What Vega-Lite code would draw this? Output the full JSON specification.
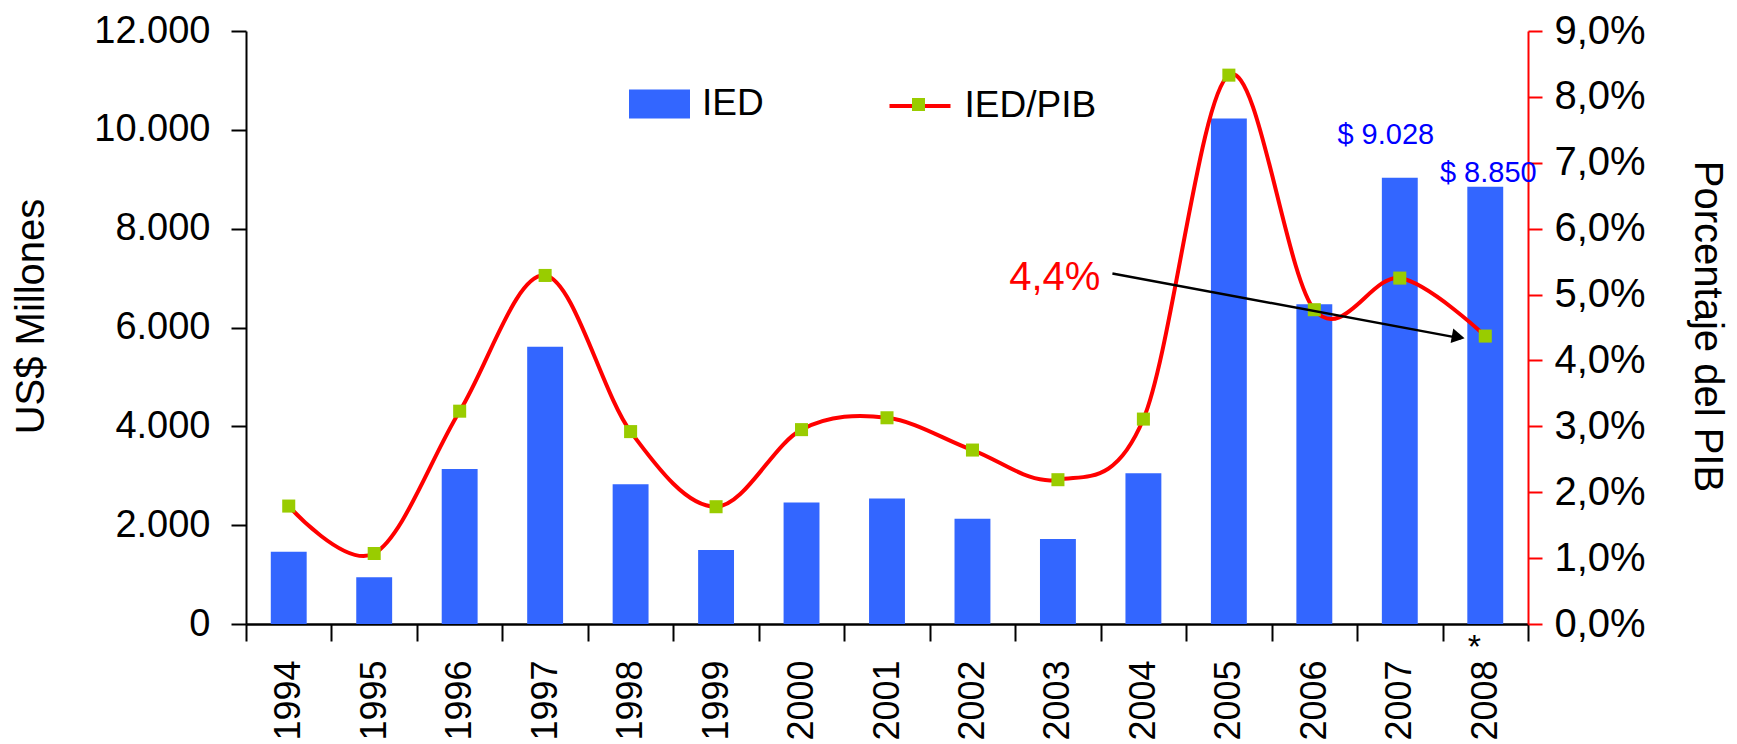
{
  "$schema": "https://vega.github.io/schema/vega-lite/v6.json",
  "width": 1282,
  "height": 593,
  "autosize": {"type": "none"},
  "padding": {"left": 246, "top": 31, "right": 209, "bottom": 120},
  "background": "white",
  "config": {
    "locale": {"number": {"decimal": ",", "thousands": ".", "grouping": [3], "currency": ["$ ", ""]}},
    "view": {"stroke": null},
    "font": "Liberation Sans, sans-serif"
  },
  "data": {"values": [
    {"year": "1994", "ied": 1460, "pct": 0.0179},
    {"year": "1995", "ied": 945, "pct": 0.0107},
    {"year": "1996", "ied": 3135, "pct": 0.0323},
    {"year": "1997", "ied": 5610, "pct": 0.0529},
    {"year": "1998", "ied": 2830, "pct": 0.0292},
    {"year": "1999", "ied": 1500, "pct": 0.0178},
    {"year": "2000", "ied": 2460, "pct": 0.0295},
    {"year": "2001", "ied": 2540, "pct": 0.0313},
    {"year": "2002", "ied": 2130, "pct": 0.0264},
    {"year": "2003", "ied": 1720, "pct": 0.0219},
    {"year": "2004", "ied": 3050, "pct": 0.0311},
    {"year": "2005", "ied": 10230, "pct": 0.0833},
    {"year": "2006", "ied": 6470, "pct": 0.0477},
    {"year": "2007", "ied": 9028, "pct": 0.0525},
    {"year": "2008", "ied": 8850, "pct": 0.0437}
  ]},
  "layer": [
    {
      "layer": [
        {
          "mark": {"type": "bar", "width": {"band": 0.42}},
          "encoding": {
            "x": {
              "field": "year", "type": "ordinal",
              "scale": {"paddingInner": 0, "paddingOuter": 0},
              "axis": {
                "title": null, "labelAngle": -90, "labelAlign": "right", "labelBaseline": "middle",
                "labelFontSize": 36, "labelColor": "black", "tickBand": "extent", "tickSize": 17,
                "tickWidth": 2, "tickColor": "black", "domainColor": "black", "domainWidth": 2.5,
                "labelPadding": 19
              }
            },
            "y": {
              "field": "ied", "type": "quantitative",
              "scale": {"domain": [0, 12000]},
              "axis": {
                "title": "US$ Millones", "values": [0, 2000, 4000, 6000, 8000, 10000, 12000],
                "format": ",.0f", "labelFontSize": 38, "labelColor": "black", "tickSize": 15,
                "labelPadding": 21, "domainColor": "black", "domainWidth": 2, "tickColor": "black",
                "tickWidth": 2, "grid": false, "titleFontSize": 40, "titleFontWeight": "normal",
                "titleColor": "black", "titleX": -215, "titleY": 285, "titleAngle": -90,
                "titleAlign": "center", "titleBaseline": "middle"
              }
            },
            "fill": {
              "datum": "IED",
              "scale": {"range": ["#3366FF"]},
              "legend": {
                "orient": "none", "legendX": 383, "legendY": 42.5, "title": null, "padding": 0,
                "symbolType": "M-1,-0.475H1V0.475H-1Z", "symbolSize": 3721, "symbolStrokeWidth": 0,
                "labelFontSize": 37, "labelOffset": 12, "labelColor": "black"
              }
            }
          }
        },
        {
          "transform": [{"filter": "datum.year == '2007'"}],
          "mark": {"type": "text", "color": "#0000FF", "fontSize": 29, "align": "center", "baseline": "alphabetic", "dx": -14, "dy": -34},
          "encoding": {
            "x": {"field": "year", "type": "ordinal"},
            "y": {"field": "ied", "type": "quantitative"},
            "text": {"field": "ied", "type": "quantitative", "format": "$,.0f"}
          }
        },
        {
          "transform": [{"filter": "datum.year == '2008'"}],
          "mark": {"type": "text", "color": "#0000FF", "fontSize": 29, "align": "center", "baseline": "alphabetic", "dx": 3, "dy": -5},
          "encoding": {
            "x": {"field": "year", "type": "ordinal"},
            "y": {"field": "ied", "type": "quantitative"},
            "text": {"field": "ied", "type": "quantitative", "format": "$,.0f"}
          }
        },
        {
          "transform": [{"filter": "datum.year == '2008'"}],
          "mark": {"type": "text", "color": "black", "fontSize": 34, "align": "center", "baseline": "middle", "dx": -11, "dy": 24},
          "encoding": {
            "x": {"field": "year", "type": "ordinal"},
            "y": {"datum": 0, "type": "quantitative"},
            "text": {"value": "*"}
          }
        }
      ]
    },
    {
      "layer": [
        {
          "mark": {"type": "line", "interpolate": "cardinal", "strokeWidth": 4},
          "encoding": {
            "x": {"field": "year", "type": "ordinal"},
            "y": {
              "field": "pct", "type": "quantitative",
              "scale": {"domain": [0, 0.09]},
              "axis": {
                "orient": "right", "title": "Porcentaje del PIB",
                "values": [0, 0.01, 0.02, 0.03, 0.04, 0.05, 0.06, 0.07, 0.08, 0.09],
                "format": ".1%", "labelFontSize": 40, "labelColor": "black", "tickSize": 14,
                "labelPadding": 12, "domainColor": "#FF0000", "domainWidth": 2, "tickColor": "#FF0000",
                "tickWidth": 2, "grid": false, "titleFontSize": 40, "titleFontWeight": "normal",
                "titleColor": "black", "titleX": 178, "titleY": 295, "titleAngle": 90,
                "titleAlign": "center", "titleBaseline": "middle",
                "encode": {"ticks": {"update": {"x": {"value": -14}, "x2": {"value": 14}}}}
              }
            },
            "stroke": {
              "datum": "IED/PIB",
              "scale": {"range": ["#FF0000"]},
              "legend": {
                "orient": "none", "legendX": 641.5, "legendY": 42.5, "title": null, "padding": 0,
                "symbolType": "stroke", "symbolSize": 3721, "symbolStrokeWidth": 4,
                "labelFontSize": 37, "labelOffset": 12, "labelColor": "black"
              }
            }
          }
        },
        {
          "mark": {"type": "point", "filled": true, "color": "#99CC00", "size": 170, "opacity": 1},
          "encoding": {
            "x": {"field": "year", "type": "ordinal"},
            "y": {"field": "pct", "type": "quantitative"},
            "shape": {
              "datum": "marcador",
              "scale": {"range": ["square"]},
              "legend": {
                "orient": "none", "legendX": 665.5, "legendY": 66.5, "title": null, "padding": 0,
                "symbolSize": 170, "symbolFillColor": "#99CC00", "symbolStrokeWidth": 0,
                "symbolOpacity": 1, "labelExpr": "''", "labelFontSize": 1
              }
            }
          }
        },
        {
          "data": {"values": [{"year": "2004", "year_end": "2008", "pct": 0.0532, "pct_end": 0.04335, "label": "4,4%"}]},
          "layer": [
            {
              "mark": {"type": "rule", "color": "black", "strokeWidth": 2.5, "xOffset": -31, "x2Offset": -24},
              "encoding": {
                "x": {"field": "year", "type": "ordinal"},
                "x2": {"field": "year_end"},
                "y": {"field": "pct", "type": "quantitative"},
                "y2": {"field": "pct_end"}
              }
            },
            {
              "mark": {"type": "point", "shape": "triangle-right", "filled": true, "color": "black", "size": 220, "opacity": 1, "angle": 10.4, "xOffset": -27, "yOffset": -1.4},
              "encoding": {
                "x": {"field": "year_end", "type": "ordinal"},
                "y": {"field": "pct_end", "type": "quantitative"}
              }
            },
            {
              "mark": {"type": "text", "color": "#FF0000", "fontSize": 40, "align": "right", "baseline": "middle", "dx": -43, "dy": 5},
              "encoding": {
                "x": {"field": "year", "type": "ordinal"},
                "y": {"field": "pct", "type": "quantitative"},
                "text": {"field": "label"}
              }
            }
          ]
        }
      ]
    }
  ],
  "resolve": {"scale": {"y": "independent"}}
}
